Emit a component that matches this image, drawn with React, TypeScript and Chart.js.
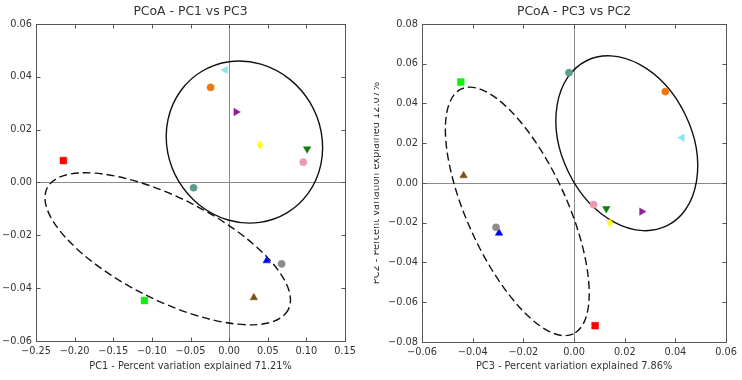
import React, { useEffect, useRef } from "react";
import { Chart, registerables } from "chart.js";

Chart.register(...registerables);
Chart.defaults.font.family = "'DejaVu Sans', sans-serif";

// ---- data ----
const samples = ["S1", "S2", "S3", "S4", "S5", "S6", "S7", "S8", "S9", "S10", "S11", "S12"];
const pc1 = [-0.2145, -0.1096, -0.024, -0.005, 0.009, 0.04, 0.101, 0.096, -0.046, 0.0487, 0.068, 0.032];
const pc2 = [-0.0718, 0.0508, 0.046, 0.0228, -0.0144, -0.0201, -0.0129, -0.0109, 0.0555, -0.0252, -0.0223, 0.0037];
const pc3 = [0.0083, -0.0447, 0.036, 0.0426, 0.0267, 0.0142, 0.0127, 0.0077, -0.002, -0.0296, -0.0308, -0.0436];
const colors = ["#ff0000", "#11ee11", "#ee7711", "#88e4f2", "#8a1f96", "#ffff00", "#117a11", "#ee9aae", "#5c9c8c", "#0000ff", "#8c8c8c", "#7a5214"];
const markers = ["square", "square", "circle", "triLeft", "triRight", "diamond", "triDown", "circle", "circle", "triUp", "circle", "triUp"];

const leftXTicks = [-0.25, -0.2, -0.15, -0.1, -0.05, 0, 0.05, 0.1, 0.15];
const leftYTicks = [-0.06, -0.04, -0.02, 0, 0.02, 0.04, 0.06];
const rightXTicks = [-0.06, -0.04, -0.02, 0, 0.02, 0.04, 0.06];
const rightYTicks = [-0.08, -0.06, -0.04, -0.02, 0, 0.02, 0.04, 0.06, 0.08];

// ellipses in data units: [centerX, centerY, axis1X, axis1Y, axis2X, axis2Y]
const leftSolidEllipse = [0.0198, 0.0153, 0.055, -0.0268, -0.085, -0.0149];
const leftDashedEllipse = [-0.0795, -0.0251, 0.1561, -0.023, -0.0298, -0.0173];
const rightSolidEllipse = [0.0208, 0.02, 0.0159, -0.0415, -0.023, -0.0146];
const rightDashedEllipse = [-0.0224, -0.0143, 0.0221, -0.0616, -0.0178, -0.0107];

const fmt = (v: number) => (v < -1e-9 ? "\u2212" : "") + Math.abs(v).toFixed(2);

function diamondCanvas(color: string) {
  const c = document.createElement("canvas");
  c.width = 6;
  c.height = 9;
  const ctx = c.getContext("2d")!;
  ctx.fillStyle = color;
  ctx.beginPath();
  ctx.moveTo(3, 0);
  ctx.lineTo(6, 4.5);
  ctx.lineTo(3, 9);
  ctx.lineTo(0, 4.5);
  ctx.closePath();
  ctx.fill();
  return c;
}

function styleFor(m: string, color: string): any {
  switch (m) {
    case "square": return { style: "rect", rot: 0, r: 4.8 };
    case "circle": return { style: "circle", rot: 0, r: 3.6 };
    case "triUp": return { style: "triangle", rot: 0, r: 4.3 };
    case "triDown": return { style: "triangle", rot: 180, r: 4.3 };
    case "triLeft": return { style: "triangle", rot: 270, r: 4.3 };
    case "triRight": return { style: "triangle", rot: 90, r: 4.3 };
    case "diamond": return { style: diamondCanvas(color), rot: 0, r: 4 };
  }
  return { style: "circle", rot: 0, r: 3.6 };
}

const framePlugin = {
  id: "framePlugin",
  beforeDatasetsDraw(chart: any) {
    const { ctx, chartArea: a, scales } = chart;
    const xs = scales.x, ys = scales.y;
    ctx.save();
    // zero lines
    ctx.strokeStyle = "#8a8a8a";
    ctx.lineWidth = 1;
    const x0 = Math.round(xs.getPixelForValue(0)) + 0.5;
    const y0 = Math.round(ys.getPixelForValue(0)) + 0.5;
    ctx.beginPath();
    ctx.moveTo(x0, a.top);
    ctx.lineTo(x0, a.bottom);
    ctx.moveTo(a.left, y0);
    ctx.lineTo(a.right, y0);
    ctx.stroke();
    // ellipses
    const els = chart.options.plugins.framePlugin.ellipses || [];
    const sx = xs.getPixelForValue(1) - xs.getPixelForValue(0);
    const sy = ys.getPixelForValue(1) - ys.getPixelForValue(0);
    for (const e of els) {
      const p = e.params;
      ctx.beginPath();
      ctx.save();
      ctx.translate(xs.getPixelForValue(p[0]), ys.getPixelForValue(p[1]));
      ctx.scale(sx, sy);
      ctx.transform(p[2], p[3], p[4], p[5], 0, 0);
      ctx.arc(0, 0, 1, 0, Math.PI * 2);
      ctx.restore();
      ctx.setLineDash(e.dashed ? [8, 4] : []);
      ctx.lineWidth = 1.4;
      ctx.strokeStyle = "#111";
      ctx.stroke();
    }
    ctx.restore();
  },
  afterDatasetsDraw(chart: any) {
    const { ctx, chartArea: a, scales } = chart;
    const xs = scales.x, ys = scales.y;
    ctx.save();
    ctx.strokeStyle = "#555";
    ctx.lineWidth = 1;
    const L = Math.round(a.left) + 0.5, R = Math.round(a.right) + 0.5;
    const T = Math.round(a.top) + 0.5, B = Math.round(a.bottom) + 0.5;
    ctx.strokeRect(L, T, R - L, B - T);
    const tl = 4;
    ctx.beginPath();
    for (const t of xs.ticks) {
      const px = Math.round(xs.getPixelForValue(t.value)) + 0.5;
      ctx.moveTo(px, B); ctx.lineTo(px, B - tl);
      ctx.moveTo(px, T); ctx.lineTo(px, T + tl);
    }
    for (const t of ys.ticks) {
      const py = Math.round(ys.getPixelForValue(t.value)) + 0.5;
      ctx.moveTo(L, py); ctx.lineTo(L + tl, py);
      ctx.moveTo(R, py); ctx.lineTo(R - tl, py);
    }
    ctx.stroke();
    ctx.restore();
  },
};

interface Props {
  xVals: number[];
  yVals: number[];
  xTicks: number[];
  yTicks: number[];
  title: string;
  xTitle: string;
  yTitle: string | null;
  ellipses: { params: number[]; dashed: boolean }[];
  width: number;
  padLeft: number;
  padRight: number;
  yAxisWidth: number;
  xAxisHeight: number;
  xTitlePadBottom: number;
}

function PcoaChart(props: Props) {
  const ref = useRef<HTMLCanvasElement>(null);
  useEffect(() => {
    const styles = markers.map((m, i) => styleFor(m, colors[i]));
    const chart = new Chart(ref.current!, {
      type: "scatter",
      data: {
        datasets: [
          {
            label: "samples",
            data: props.xVals.map((x, i) => ({ x, y: props.yVals[i] })),
            pointStyle: styles.map((s) => s.style),
            rotation: styles.map((s) => s.rot),
            pointRadius: styles.map((s) => s.r),
            pointHoverRadius: styles.map((s) => s.r),
            backgroundColor: colors,
            borderColor: colors,
            borderWidth: 0.5,
          } as any,
        ],
      },
      options: {
        responsive: false,
        animation: false,
        devicePixelRatio: 1,
        events: [],
        layout: { padding: { left: props.padLeft, right: props.padRight, top: 0, bottom: 0 } },
        plugins: {
          legend: { display: false },
          tooltip: { enabled: false },
          title: {
            display: true,
            text: props.title,
            fullSize: false,
            color: "#333",
            font: { size: 12.4, weight: "normal" },
            padding: { top: 4.5, bottom: 4.6 },
          },
          framePlugin: { ellipses: props.ellipses },
        } as any,
        scales: {
          x: {
            type: "linear",
            min: props.xTicks[0],
            max: props.xTicks[props.xTicks.length - 1],
            afterBuildTicks: (s: any) => { s.ticks = props.xTicks.map((v) => ({ value: v })); },
            afterFit: (s: any) => { s.height = props.xAxisHeight; },
            grid: { display: false, drawTicks: false },
            border: { display: false },
            ticks: { color: "#333", font: { size: 9.75 }, padding: 5, maxRotation: 0, autoSkip: false, callback: (v: any) => fmt(Number(v)) },
            title: { display: true, text: props.xTitle, color: "#333", font: { size: 9.75 }, padding: { top: 0, bottom: props.xTitlePadBottom } },
          },
          y: {
            type: "linear",
            min: props.yTicks[0],
            max: props.yTicks[props.yTicks.length - 1],
            afterBuildTicks: (s: any) => { s.ticks = props.yTicks.map((v) => ({ value: v })); },
            afterFit: (s: any) => { s.width = props.yAxisWidth; },
            grid: { display: false, drawTicks: false },
            border: { display: false },
            ticks: { color: "#333", font: { size: 9.75 }, padding: 4, autoSkip: false, callback: (v: any) => fmt(Number(v)) },
            title: { display: !!props.yTitle, text: props.yTitle || "", color: "#333", font: { size: 9.75 }, padding: 0 },
          },
        },
      },
      plugins: [framePlugin as any],
    });
    return () => chart.destroy();
  }, []);
  return <canvas ref={ref} width={props.width} height={380} style={{ display: "block" }} />;
}

export default function App() {
  return (
    <div style={{ position: "absolute", left: 0, top: 0, width: 742, height: 380, background: "#fff", overflow: "hidden" }}>
      <div style={{ position: "absolute", left: 0, top: 0, width: 371, height: 380 }}>
        <PcoaChart
          xVals={pc1}
          yVals={pc3}
          xTicks={leftXTicks}
          yTicks={leftYTicks}
          title="PCoA - PC1 vs PC3"
          xTitle="PC1 - Percent variation explained 71.21%"
          yTitle={null}
          ellipses={[{ params: leftSolidEllipse, dashed: false }, { params: leftDashedEllipse, dashed: true }]}
          width={371}
          padLeft={0}
          padRight={26}
          yAxisWidth={36}
          xAxisHeight={39}
          xTitlePadBottom={7.6}
        />
      </div>
      <div style={{ position: "absolute", left: 374, top: 0, width: 368, height: 380, overflow: "hidden" }}>
        <div style={{ position: "absolute", left: -5, top: 0 }}>
          <PcoaChart
            xVals={pc3}
            yVals={pc2}
            xTicks={rightXTicks}
            yTicks={rightYTicks}
            title="PCoA - PC3 vs PC2"
            xTitle="PC3 - Percent variation explained 7.86%"
            yTitle="PC2 - Percent variation explained 12.07%"
            ellipses={[{ params: rightSolidEllipse, dashed: false }, { params: rightDashedEllipse, dashed: true }]}
            width={373}
            padLeft={1.8}
            padRight={11}
            yAxisWidth={51.2}
            xAxisHeight={38}
            xTitlePadBottom={7.45}
          />
        </div>
      </div>
    </div>
  );
}
